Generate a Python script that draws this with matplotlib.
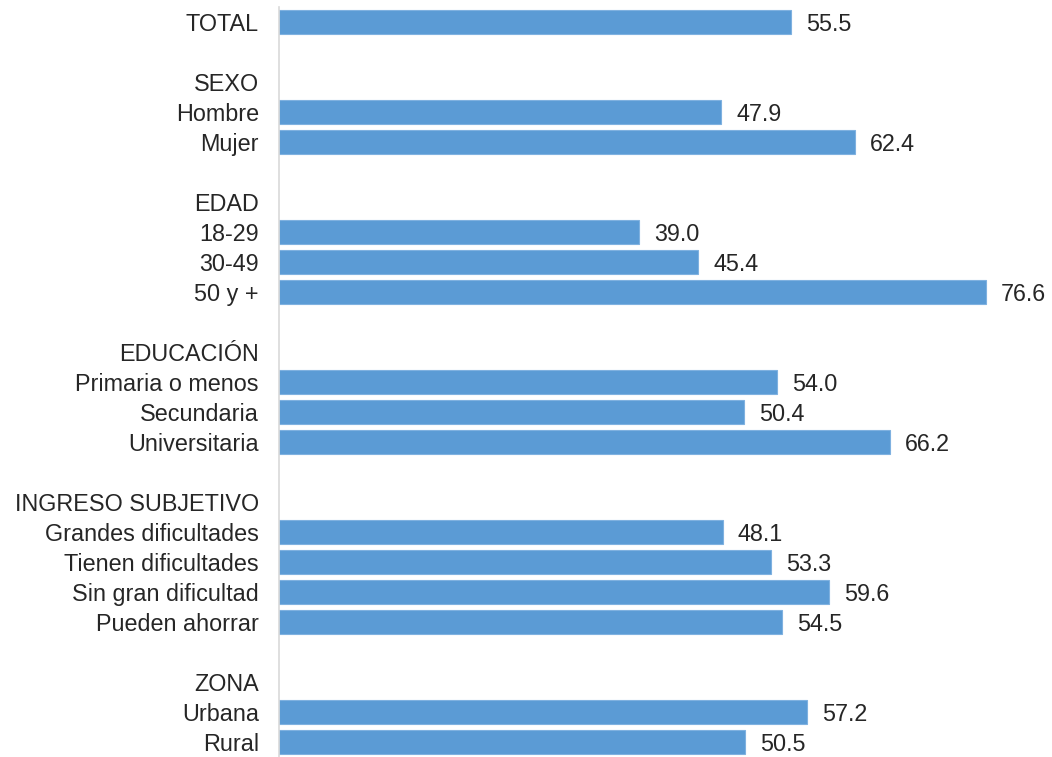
import numpy as np
import matplotlib
matplotlib.use("Agg")
import matplotlib.pyplot as plt

plt.rcParams["font.family"] = ["Liberation Sans", "DejaVu Sans"]

# rows, top to bottom; None = header / spacer row without bar
categories = ["TOTAL", "", "SEXO", "Hombre", "Mujer", "",
              "EDAD", "18-29", "30-49", "50 y +", "",
              "EDUCACIÓN", "Primaria o menos", "Secundaria", "Universitaria", "",
              "INGRESO SUBJETIVO", "Grandes dificultades", "Tienen dificultades",
              "Sin gran dificultad", "Pueden ahorrar", "",
              "ZONA", "Urbana", "Rural"]
values = [55.5, None, None, 47.9, 62.4, None,
          None, 39.0, 45.4, 76.6, None,
          None, 54.0, 50.4, 66.2, None,
          None, 48.1, 53.3, 59.6, 54.5, None,
          None, 57.2, 50.5]

bar_color = "#5B9BD5"
text_color = "#262626"
fs = 16.8

fig = plt.figure(figsize=(10.52, 7.57), dpi=100)
ax = fig.add_axes([279 / 1052, 0.0, 1 - 279 / 1052, 1 - 7 / 757])

ypos = np.arange(len(categories))
for y, v in zip(ypos, values):
    if v is None:
        continue
    ax.barh(y, v, height=0.77, color=bar_color, edgecolor="#7FB1E0", linewidth=0.8)
    ax.annotate(f"{v:.1f}", xy=(v, y), xytext=(10.8, -1.5), textcoords="offset points",
                ha="left", va="center", fontsize=fs, color=text_color)

ax.set_yticks(ypos)
ax.set_yticklabels(categories, fontsize=fs, color=text_color)
ax.tick_params(axis="y", length=0, pad=14.5)
ax.set_xticks([])
ax.set_ylim(len(categories) - 0.5, -0.5)
ax.set_xlim(0, (1052 - 279) / 9.23)

for s in ["top", "right", "bottom"]:
    ax.spines[s].set_visible(False)
ax.spines["left"].set_color("#D9D9D9")
ax.spines["left"].set_linewidth(1.2)

fig.savefig("out.png", dpi=100)
